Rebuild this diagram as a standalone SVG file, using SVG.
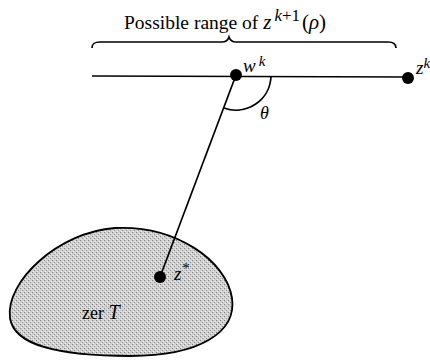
<svg xmlns="http://www.w3.org/2000/svg" width="430" height="363" viewBox="0 0 430 363">
<style>
.t{font-family:"Liberation Serif","Times New Roman",serif;fill:#000}
.i{font-style:italic}
.ln{stroke:#000;stroke-width:1.7;fill:none}
.dot{fill:#000}
</style>
<defs>
<pattern id="stip" width="4" height="4" patternUnits="userSpaceOnUse">
<rect width="4" height="4" fill="#d0d0d0"/>
<rect x="0" y="0" width="1" height="1" fill="#808080"/>
<rect x="2" y="2" width="1" height="1" fill="#909090"/>
<rect x="3" y="1" width="1" height="1" fill="#f0f0f0"/>
<rect x="1" y="3" width="1" height="1" fill="#f0f0f0"/>
</pattern>
</defs>
<g id="region">
<path d="M10,318 C5,282 58,232 115,228 C175,225 226,260 232,298 C237,332 200,356 130,356 C60,356 14,346 10,318 Z" fill="url(#stip)" stroke="#000" stroke-width="1.8"/>
<text class="t" x="82" y="319" font-size="18">zer <tspan class="i" font-size="20">T</tspan></text>
</g>
<g id="title">
<text class="t" x="124" y="29" font-size="19.5">Possible range of <tspan class="i" font-size="21">z</tspan><tspan class="i" font-size="17" dy="-8" dx="3">k</tspan><tspan font-size="17">+1</tspan><tspan dy="8" dx="2" font-size="21">(</tspan><tspan class="i" font-size="21">ρ</tspan><tspan font-size="21">)</tspan></text>
<path class="ln" d="M92,48 C92,43 95,42 100,42 L222,42 C226,42 228,40 229,37 C230,40 232,42 236,42 L388,42 C393,42 396,44 396,48" stroke-width="1.4"/>
</g>
<g id="connectors">
<line class="ln" x1="92" y1="76" x2="406" y2="77"/>
<line class="ln" x1="236" y1="75" x2="160" y2="277"/>
<path class="ln" d="M271,76 A35,35 0 0 1 224,108" stroke-width="1.5"/>
<text class="t i" x="260" y="119" font-size="18">θ</text>
</g>
<g id="wk">
<circle class="dot" cx="236" cy="75" r="6"/>
<text class="t i" x="243" y="72" font-size="19">w<tspan font-size="15" dy="-6" dx="3">k</tspan></text>
</g>
<g id="zk">
<circle class="dot" cx="408" cy="78" r="6"/>
<text class="t i" x="416" y="74" font-size="19">z<tspan font-size="15" dy="-6">k</tspan></text>
</g>
<g id="zstar">
<circle class="dot" cx="160" cy="277" r="6"/>
<text class="t i" x="174" y="280" font-size="19">z<tspan font-size="15" dy="-7">*</tspan></text>
</g>
</svg>
